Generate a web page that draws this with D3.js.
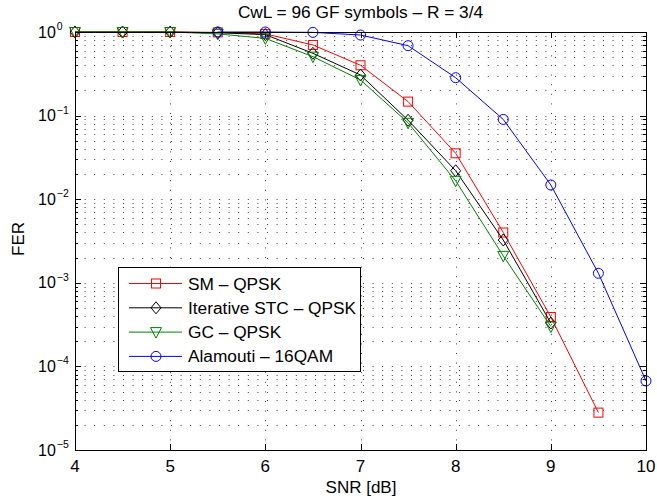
<!DOCTYPE html>
<html>
<head>
<meta charset="utf-8">
<script src="https://cdn.jsdelivr.net/npm/d3@7"></script>
<style>
  body { margin: 0; background: #fff; }
  text { font-family: "Liberation Sans", Arial, Helvetica, sans-serif; }
</style>
</head>
<body>
<div id="chart"></div>
<script>
// chart values
const snr = [4, 4.5, 5, 5.5, 6, 6.5, 7, 7.5, 8, 8.5, 9, 9.5];
const ferSM = [1, 1, 1, 0.99, 0.95, 0.70, 0.40, 0.147, 0.0354, 0.0040, 3.9e-4, 2.8e-5];
const ferSTC = [1, 1, 1, 0.98, 0.93, 0.556, 0.306, 0.088, 0.0219, 0.00325, 3.3e-4];
const ferGC = [1, 1, 1, 0.95, 0.84, 0.507, 0.267, 0.082, 0.0166, 0.0021, 3.0e-4];
const snrAla = [5.5, 6, 6.5, 7, 7.5, 8, 8.5, 9, 9.5, 10];
const ferAla = [1, 1, 0.99, 0.92, 0.686, 0.284, 0.090, 0.0148, 0.0013, 6.7e-5];

const xTicks = [4, 5, 6, 7, 8, 9, 10];
const yExps = [0, -1, -2, -3, -4, -5];

const series = [
  { name: "SM \u2013 QPSK", x: snr, y: ferSM, color: "#ff0000", marker: "square" },
  { name: "Iterative STC \u2013 QPSK", x: snr, y: ferSTC, color: "#000000", marker: "diamond" },
  { name: "GC \u2013 QPSK", x: snr, y: ferGC, color: "#008000", marker: "tri" },
  { name: "Alamouti \u2013 16QAM", x: snrAla, y: ferAla, color: "#0000ff", marker: "circle" }
];

const width = 657, height = 502;
const margin = { top: 32, right: 11, bottom: 52, left: 75 };
const iw = width - margin.left - margin.right;
const ih = height - margin.top - margin.bottom;
const fs = 17;

const svg = d3.select("#chart").append("svg")
  .attr("width", width).attr("height", height);

const x = d3.scaleLinear().domain([4, 10]).range([0, iw]);
const y = d3.scaleLog().domain([1e-5, 1]).range([ih, 0]);

const g = svg.append("g").attr("transform", `translate(${margin.left},${margin.top})`);

// minor + major y values for grid / ticks
const yMinor = [];
for (let e = -5; e < 0; e++) for (let m = 2; m <= 9; m++) yMinor.push(m * Math.pow(10, e));
const yMajor = yExps.map(e => Math.pow(10, e));

// dotted grid (matlab style)
const grid = g.append("g")
  .attr("stroke", "#000").attr("stroke-width", 1)
  .attr("stroke-dasharray", "1,8.6").attr("opacity", 0.75);
grid.selectAll("line.h").data(yMajor.concat(yMinor)).join("line")
  .attr("class", "h")
  .attr("x1", 0).attr("x2", iw)
  .attr("y1", d => Math.round(y(d)) + 0.5).attr("y2", d => Math.round(y(d)) + 0.5);
grid.selectAll("line.v").data(xTicks).join("line")
  .attr("class", "v")
  .attr("y1", ih).attr("y2", 0)
  .attr("x1", d => Math.round(x(d)) + 0.5).attr("x2", d => Math.round(x(d)) + 0.5);

// tick marks inside the box
const ticks = g.append("g").attr("stroke", "#000").attr("stroke-width", 1);
xTicks.forEach(t => {
  const px = Math.round(x(t)) + 0.5;
  ticks.append("line").attr("x1", px).attr("x2", px).attr("y1", ih).attr("y2", ih - 6);
  ticks.append("line").attr("x1", px).attr("x2", px).attr("y1", 0).attr("y2", 6);
});
yMajor.concat(yMinor).forEach(v => {
  const py = Math.round(y(v)) + 0.5;
  const len = yMajor.includes(v) ? 6 : 3;
  ticks.append("line").attr("x1", 0).attr("x2", len).attr("y1", py).attr("y2", py);
  ticks.append("line").attr("x1", iw).attr("x2", iw - len).attr("y1", py).attr("y2", py);
});

// x tick labels
g.append("g").selectAll("text").data(xTicks).join("text")
  .attr("x", d => x(d)).attr("y", ih + 22)
  .attr("text-anchor", "middle").attr("font-size", fs)
  .text(d => d);

// y tick labels with superscript
const yl = g.append("g").selectAll("text").data(yExps).join("text")
  .attr("x", -37).attr("y", d => y(Math.pow(10, d)) + 5.5)
  .attr("text-anchor", "start").attr("font-size", 16);
yl.append("tspan").text("10");
yl.append("tspan").attr("dx", 1).attr("dy", -7.5).attr("font-size", 10.5)
  .text(d => d === 0 ? "0" : "\u2212" + (-d));

// curves
const line = d3.line().x(d => x(d[0])).y(d => y(d[1]));

function drawMarker(sel, type, color) {
  if (type === "square") {
    sel.append("rect").attr("x", -4.5).attr("y", -4.5).attr("width", 9).attr("height", 9);
  } else if (type === "diamond") {
    sel.append("path").attr("d", "M0,-6L5,0L0,6L-5,0Z");
  } else if (type === "tri") {
    sel.append("path").attr("d", "M-5.5,-4.5L5.5,-4.5L0,6Z");
  } else {
    sel.append("circle").attr("r", 5);
  }
  sel.selectAll("*").attr("fill", "none").attr("stroke", color).attr("stroke-width", 1);
}

series.forEach(s => {
  const pts = s.x.map((v, i) => [v, s.y[i]]).filter(p => p[1] !== undefined);
  const sg = g.append("g");
  sg.append("path").datum(pts).attr("d", line)
    .attr("fill", "none").attr("stroke", s.color).attr("stroke-width", 1);
  sg.selectAll("g").data(pts).join("g")
    .attr("transform", d => `translate(${x(d[0])},${y(d[1])})`)
    .each(function () { drawMarker(d3.select(this), s.marker, s.color); });
});

// axes box
g.append("rect").attr("x", 0.5).attr("y", 0.5).attr("width", iw).attr("height", ih)
  .attr("fill", "none").attr("stroke", "#000").attr("stroke-width", 1);

// legend
const lg = svg.append("g").attr("transform", "translate(118,267)");
lg.append("rect").attr("x", 0.5).attr("y", 0.5).attr("width", 242).attr("height", 104)
  .attr("fill", "#fff").attr("stroke", "#000").attr("stroke-width", 1);
series.forEach((s, i) => {
  const ry = 16.5 + i * 24.3;
  const row = lg.append("g").attr("transform", `translate(0,${ry})`);
  row.append("line").attr("x1", 11).attr("x2", 64).attr("y1", 0).attr("y2", 0)
    .attr("stroke", s.color).attr("stroke-width", 1);
  const m = row.append("g").attr("transform", "translate(38,0)");
  drawMarker(m, s.marker, s.color);
  row.append("text").attr("x", 70).attr("y", 6).attr("font-size", 17.3).text(s.name);
});

// title and axis labels
svg.append("text").attr("x", margin.left + iw / 2).attr("y", 18)
  .attr("text-anchor", "middle").attr("font-size", 17.3)
  .text("CwL = 96 GF symbols \u2013 R = 3/4");
svg.append("text").attr("x", margin.left + iw / 2 + 0.5).attr("y", 493)
  .attr("text-anchor", "middle").attr("font-size", fs)
  .text("SNR [dB]");
svg.append("text")
  .attr("transform", "translate(24,239) rotate(-90)")
  .attr("text-anchor", "middle").attr("font-size", fs)
  .text("FER");
</script>
</body>
</html>
